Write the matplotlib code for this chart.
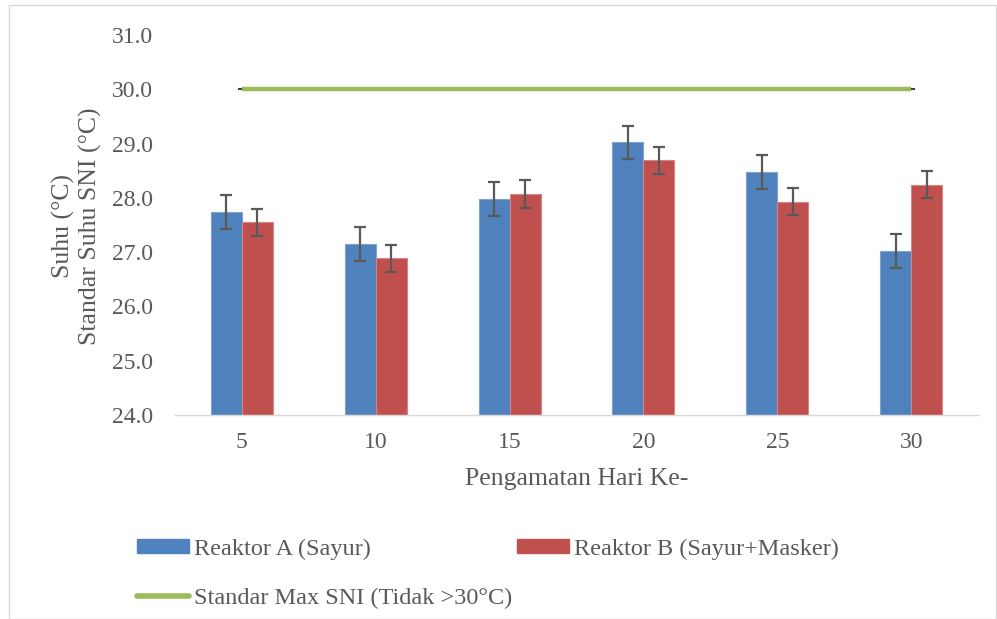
import numpy as np
import matplotlib.pyplot as plt
from matplotlib.patches import Rectangle
from matplotlib.lines import Line2D

plt.rcParams['font.family'] = ['Liberation Serif', 'DejaVu Serif']

# data
hari = ["5", "10", "15", "20", "25", "30"]
reaktor_a = [27.74, 27.15, 27.98, 29.02, 28.47, 27.02]
reaktor_b = [27.55, 26.89, 28.07, 28.69, 27.93, 28.24]
err_a = [0.31, 0.31, 0.31, 0.31, 0.31, 0.31]
err_b = [0.25, 0.25, 0.25, 0.25, 0.25, 0.25]
standar_sni = [30.0, 30.0, 30.0, 30.0, 30.0, 30.0]

text_col = "#595959"
blue = "#4F81BD"
red = "#C0504D"
green = "#9BBB59"

fig = plt.figure(figsize=(9.97, 6.19), dpi=100)
ax = fig.add_axes([0.1755, 0.3296, 0.8055, 0.6139])

x = np.arange(len(hari))
w = 0.232
base = 24.0
ax.bar(x - w / 2, np.array(reaktor_a) - base, w, bottom=base, color=blue,
       edgecolor="#7FA3D1", linewidth=0.8, label="Reaktor A (Sayur)", zorder=2)
ax.bar(x + w / 2, np.array(reaktor_b) - base, w, bottom=base, color=red,
       edgecolor="#D58684", linewidth=0.8, label="Reaktor B (Sayur+Masker)", zorder=2)
ax.errorbar(x - w / 2, reaktor_a, yerr=err_a, fmt="none", ecolor=text_col,
            elinewidth=1.6, capsize=4.5, capthick=1.6, zorder=3)
ax.errorbar(x + w / 2, reaktor_b, yerr=err_b, fmt="none", ecolor=text_col,
            elinewidth=1.6, capsize=4.5, capthick=1.6, zorder=3)

# standard line with tiny dark end caps
ax.plot([x[0] - 0.02, x[-1] + 0.02], [standar_sni[0], standar_sni[-1]],
        color="#404040", linewidth=1.5, zorder=3)
ax.plot(x, standar_sni, color=green, linewidth=3.2, solid_capstyle="butt", zorder=4)

ax.set_xlim(-0.5, len(hari) - 0.5)
ax.set_ylim(24, 31)
ax.set_yticks(np.arange(24, 31.5, 1.0))
ax.set_yticklabels([f"{v:.1f}" for v in np.arange(24, 31.5, 1.0)])
ax.set_xticks(x)
ax.set_xticklabels(hari)
ax.tick_params(axis="both", length=0, labelsize=17, colors=text_col)
ax.tick_params(axis="y", pad=16)
ax.tick_params(axis="x", pad=12)

for s in ["top", "right", "left"]:
    ax.spines[s].set_visible(False)
ax.spines["bottom"].set_color("#D9D9D9")
ax.spines["bottom"].set_linewidth(1.0)

ax.set_xlabel("Pengamatan Hari Ke-", fontsize=18.5, color=text_col, labelpad=11)
fig.text(0.077, 0.635, "Suhu (°C)\nStandar Suhu SNI (°C)", rotation=90,
         ha="center", va="center", fontsize=18.5, color=text_col,
         linespacing=1.2, multialignment="center")

handles = [
    Rectangle((0, 0), 1, 1, color=blue),
    Line2D([0], [0], color=green, linewidth=4, solid_capstyle="round"),
    Rectangle((0, 0), 1, 1, color=red),
]
labels = ["Reaktor A (Sayur)", "Standar Max SNI (Tidak >30°C)", "Reaktor B (Sayur+Masker)"]
fig.legend(handles, labels, ncol=2, loc="upper left", bbox_to_anchor=(0.137, 0.13),
           frameon=False, fontsize=17.5, labelcolor=text_col, handlelength=2.15,
           handleheight=0.5, handletextpad=0.2, columnspacing=0.2,
           labelspacing=1.15, borderaxespad=0, borderpad=0)

# light outer frame like the chart area border
fig.patches.append(Rectangle((0.009, 0.0), 0.99, 0.992, transform=fig.transFigure,
                             fill=False, edgecolor="#D9D9D9", linewidth=1.0))

fig.savefig("out.png", dpi=100)
